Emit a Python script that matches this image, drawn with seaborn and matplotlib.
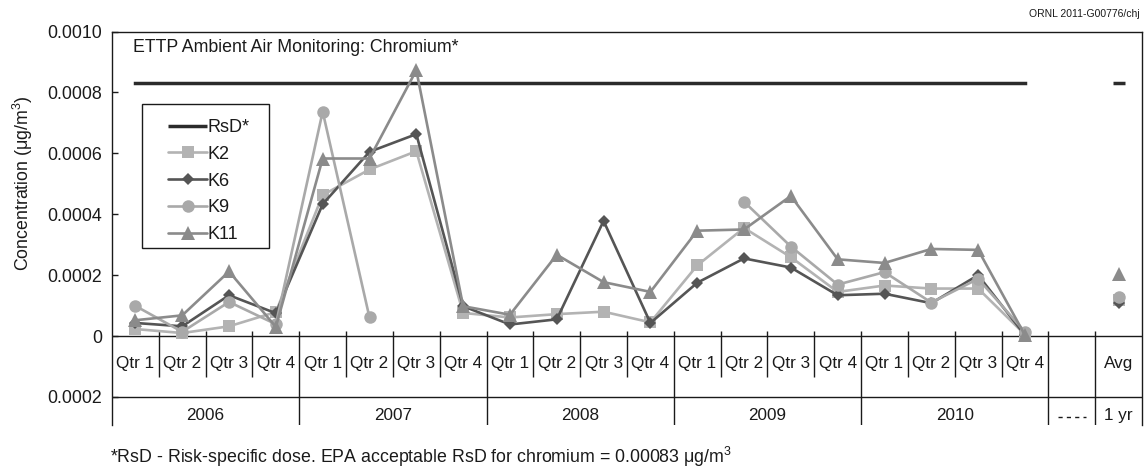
import numpy as np
import pandas as pd
import matplotlib
matplotlib.use("Agg")
import matplotlib.pyplot as plt
from matplotlib.lines import Line2D
from matplotlib.patches import Rectangle
import seaborn as sns

# ---------------- data ----------------
quarters = ["Qtr 1", "Qtr 2", "Qtr 3", "Qtr 4"] * 5 + ["", "Avg"]
years = ["2006", "2007", "2008", "2009", "2010"]
period_labels = ["- - - -", "1 yr"]

nan = np.nan
rsd = [0.00083] * 20 + [nan, 0.00083]
k2 = [0.000023, 0.000010, 0.000032, 0.000079, 0.000463, 0.000547, 0.000607, 0.000076,
      0.000061, 0.000072, 0.000080, 0.000045, 0.000232, 0.000355, 0.000259, 0.000145,
      0.000166, 0.000156, 0.000156, 0.000005, nan, 0.000117]
k6 = [0.000043, 0.000032, 0.000134, 0.000075, 0.000433, 0.000605, 0.000663, 0.000098,
      0.000038, 0.000055, 0.000378, 0.000043, 0.000175, 0.000255, 0.000225, 0.000134,
      0.000139, 0.000108, 0.000200, 0.000003, nan, 0.000107]
k9 = [0.000099, 0.000014, 0.000112, 0.000039, 0.000737, 0.000061, nan, nan,
      nan, nan, nan, nan, nan, 0.000441, 0.000294, 0.000169,
      0.000210, 0.000110, 0.000188, 0.000014, nan, 0.000128]
k11 = [0.000052, 0.000068, 0.000212, 0.000030, 0.000583, 0.000583, 0.000873, 0.000098,
       0.000070, 0.000267, 0.000177, 0.000145, 0.000346, 0.000350, 0.000460, 0.000252,
       0.000240, 0.000286, 0.000283, 0.000003, nan, 0.000205]
y_ticks = [-0.0002, 0.0, 0.0002, 0.0004, 0.0006, 0.0008, 0.0010]
y_tick_labels = ["0.0002", "0", "0.0002", "0.0004", "0.0006", "0.0008", "0.0010"]

# ---------------- style ----------------
sns.set_style("white")
plt.rcParams["font.family"] = ["Liberation Sans", "DejaVu Sans"]
plt.rcParams["mathtext.fontset"] = "custom"
plt.rcParams["mathtext.rm"] = "Liberation Sans"
plt.rcParams["mathtext.it"] = "Liberation Sans:italic"

W, H = 1146, 472
fig = plt.figure(figsize=(W / 100, H / 100), dpi=100)
ax_left, ax_right, ax_top, ax_bot = 112, 1142, 31.5, 425
ax = fig.add_axes([ax_left / W, 1 - ax_bot / H, (ax_right - ax_left) / W, (ax_bot - ax_top) / H])


def ax_fx(px):
    return (px - ax_left) / (ax_right - ax_left)


def ax_fy(py):
    return (ax_bot - py) / (ax_bot - ax_top)


n = len(quarters)
positions = np.arange(n) + 0.5
TXT = "#1a1a1a"
FS = 12.8
FS_Q = 12.3


def plot_runs(values, **kw):
    vals = np.array(values, dtype=float)
    runs, cur = [], []
    for i, v in enumerate(vals):
        if np.isnan(v):
            if cur:
                runs.append(cur)
                cur = []
        else:
            cur.append(i)
    if cur:
        runs.append(cur)
    for r in runs:
        df = pd.DataFrame({"x": positions[r], "y": vals[r]})
        sns.lineplot(data=df, x="x", y="y", ax=ax, legend=False, errorbar=None,
                     sort=False, **kw)


series = [
    ("K2", k2, "#b3b3b3", "s", 8.2),
    ("K6", k6, "#555555", "D", 6.6),
    ("K9", k9, "#a9a9a9", "o", 9.0),
    ("K11", k11, "#8b8b8b", "^", 9.6),
]
RSD_COL = "#2b2b2b"

# RsD line (quarters) and its 1-yr marker
rsd_arr = np.array(rsd, dtype=float)
sns.lineplot(x=positions[:20], y=rsd_arr[:20], ax=ax, color=RSD_COL, linewidth=2.5,
             solid_capstyle="projecting", legend=False, errorbar=None, zorder=2)
sns.lineplot(x=positions[21:22], y=rsd_arr[21:22], ax=ax, color=RSD_COL, linewidth=0,
             marker="_", markersize=9, markeredgewidth=2.5, markeredgecolor=RSD_COL,
             legend=False, errorbar=None, zorder=2)

for name, vals, col, mk, ms in series:
    plot_runs(vals, color=col, linewidth=1.9, marker=mk, markersize=ms,
              markeredgewidth=0, markerfacecolor=col, zorder=3)

# ---------------- axes ----------------
ax.set_xlim(0, n)
ax.set_ylim(-0.000292, 0.0010)
ax.set_xlabel("")
ax.set_ylabel("Concentration (μg/m$^3$)", fontsize=FS, color=TXT)
ax.yaxis.set_label_coords(ax_fx(35), ax_fy(183.5))
ax.set_yticks(y_ticks)
ax.set_yticklabels(y_tick_labels)
ax.set_xticks([])
ax.tick_params(axis="y", direction="in", length=4, width=1, colors=TXT, labelsize=FS, pad=7,
               left=True)
for sp in ["top", "left", "right"]:
    ax.spines[sp].set_visible(True)
    ax.spines[sp].set_color(TXT)
    ax.spines[sp].set_linewidth(1.0)
ax.spines["bottom"].set_visible(False)

ax.axhline(0, color=TXT, lw=1.0, zorder=1)
ax.axhline(-0.0002, color=TXT, lw=1.0, zorder=1)

# table: quarter dividers and labels
q_label_y = -0.000089
yr_label_y = -0.000262
for i in range(1, n):
    if i % 4 == 0 or i >= 20:
        ax.vlines(i, -0.000292, 0.000015, color=TXT, lw=1.0)
    else:
        ax.vlines(i, -0.000135, 0.000015, color=TXT, lw=1.0)
for i, q in enumerate(quarters):
    if q:
        ax.text(positions[i], q_label_y, q, ha="center", va="center", fontsize=FS_Q, color=TXT)
for j, yr in enumerate(years):
    ax.text(4 * j + 2, yr_label_y, yr, ha="center", va="center", fontsize=FS_Q, color=TXT)
ax.plot([20.2, 20.8], [-0.000265, -0.000265], color=TXT, lw=1.0, ls=(0, (3, 3)))
ax.text(positions[21], yr_label_y, period_labels[1], ha="center", va="center",
        fontsize=FS_Q, color=TXT)

# title inside
ax.text(ax_fx(133), ax_fy(48), "ETTP Ambient Air Monitoring: Chromium*",
        transform=ax.transAxes, ha="left", va="center", fontsize=FS, color=TXT)

# legend: exact frame drawn as a rectangle, entries without frame
ax.add_patch(Rectangle((ax_fx(142), ax_fy(248)), ax_fx(269) - ax_fx(142), ax_fy(104) - ax_fy(248),
                       transform=ax.transAxes, fill=True, facecolor="white", edgecolor=TXT,
                       lw=1.0, zorder=4))
handles = [Line2D([], [], color=RSD_COL, lw=2.5, solid_capstyle="butt")]
labels = ["RsD*"]
for name, vals, col, mk, ms in series:
    handles.append(Line2D([], [], color=col, lw=1.9, marker=mk, markersize=ms,
                          markeredgewidth=0, markerfacecolor=col))
    labels.append(name)
leg = ax.legend(handles, labels, loc="upper left",
                bbox_to_anchor=(ax_fx(168), ax_fy(119)),
                borderaxespad=0, frameon=False, fontsize=13,
                handlelength=2.16, handletextpad=0.05, labelspacing=0.54, borderpad=0)
leg.set_zorder(5)
for t in leg.get_texts():
    t.set_color(TXT)

# figure texts
fig.text(1140 / W, 1 - 14 / H, "ORNL 2011-G00776/chj", ha="right", va="center",
         fontsize=7.5, color=TXT)
fig.text(110 / W, 1 - 457 / H,
         "*RsD - Risk-specific dose. EPA acceptable RsD for chromium = 0.00083 μg/m$^3$",
         ha="left", va="center", fontsize=FS, color=TXT)

fig.savefig("out.png", dpi=100)
